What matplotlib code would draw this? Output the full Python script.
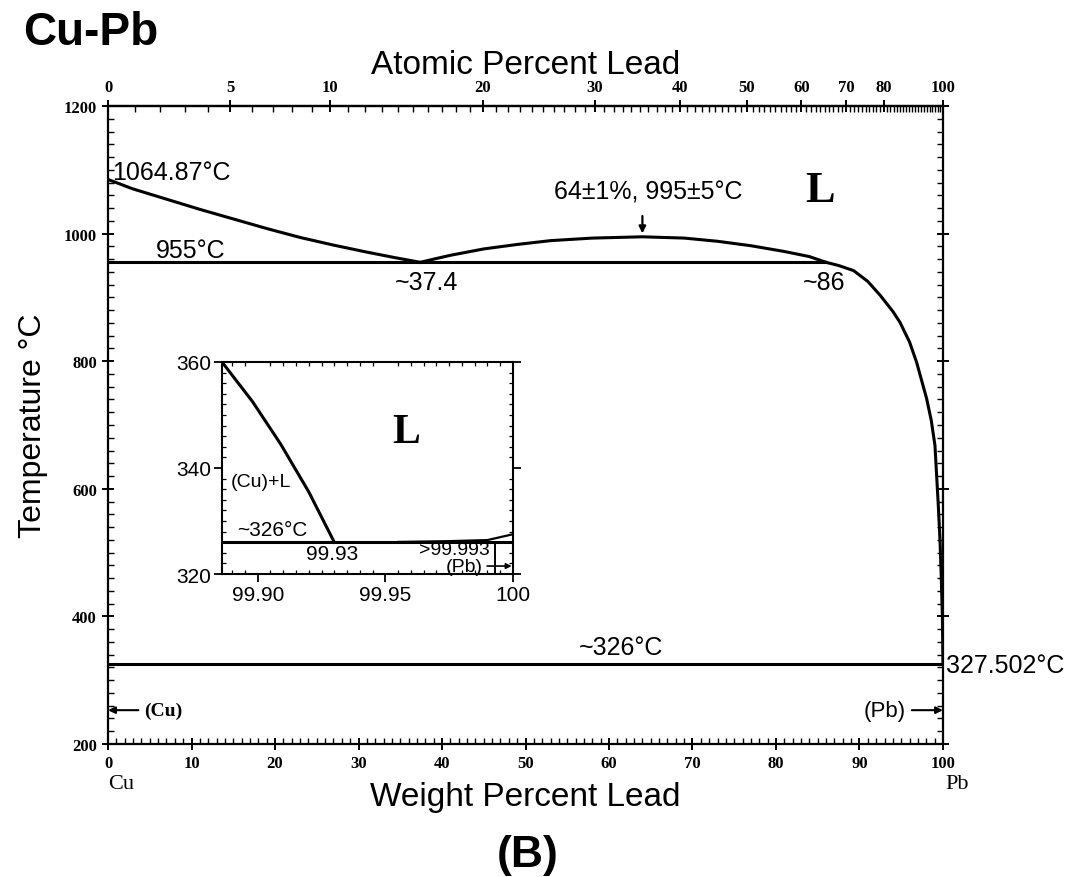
import numpy as np
import matplotlib
matplotlib.use("Agg")
import matplotlib.pyplot as plt
from matplotlib.ticker import MultipleLocator, FixedLocator

plt.rcParams['font.family'] = ['Liberation Sans', 'DejaVu Sans']

# ---- data (weight % Pb, temperature in C) ----
liq_left_wt = [0, 3, 7, 11, 15, 19, 23, 27, 31, 34.5, 37.4]
liq_left_T = [1084.87, 1070, 1054, 1038, 1023, 1008, 994, 982, 971, 962, 955]

dome_wt = [37.4, 39, 41, 45, 49, 53, 58, 64, 69, 73, 77, 81, 84, 86]
dome_T = [955, 960, 966, 976, 983, 989, 993, 995, 993, 988, 981, 972, 964, 955]

liq_right_wt = [86, 87.5, 89.3, 91, 92.5, 94, 94.85, 96, 96.85, 98.05, 98.6,
                99.04, 99.44, 99.64, 99.8, 99.93, 100]
liq_right_T = [955, 950, 942, 925, 903, 878, 861, 830, 798, 741, 707,
               668, 574, 521, 460, 400, 327.5]

monotectic_T = 955
monotectic_wt = [0, 86]
eutectic_T = 326
eutectic_wt = [0, 100]

top_ticks_at = [0, 5, 10, 20, 30, 40, 50, 60, 70, 80, 100]
bottom_ticks = list(range(0, 101, 10))
left_ticks = list(range(200, 1201, 200))

# inset data
in_liq_wt = [99.886, 99.898, 99.909, 99.920, 99.930]
in_liq_T = [360, 352.5, 344.5, 335.5, 326]
in_pbliq_wt = [99.955, 99.975, 99.99, 100.0]
in_pbliq_T = [326.05, 326.2, 326.4, 327.5]
in_solvus_wt = [99.993, 99.993]
in_solvus_T = [326, 320]


def wt_to_at(w):
    w = np.asarray(w, dtype=float)
    a = w / 207.2
    b = (100 - w) / 63.546
    return 100 * a / (a + b)


def at_to_wt(a):
    a = np.asarray(a, dtype=float)
    return 100 * a * 207.2 / (a * 207.2 + (100 - a) * 63.546)


fig = plt.figure(figsize=(10.87, 8.78), dpi=100)
ax = fig.add_axes([0.0994, 0.1515, 0.7681, 0.7266])

lw = 2.2
ax.plot(liq_left_wt, liq_left_T, color='black', lw=lw)
ax.plot(dome_wt, dome_T, color='black', lw=lw)
ax.plot(liq_right_wt, liq_right_T, color='black', lw=lw)
ax.plot(monotectic_wt, [monotectic_T] * 2, color='black', lw=lw)
ax.plot(eutectic_wt, [eutectic_T] * 2, color='black', lw=lw)

ax.set_xlim(0, 100)
ax.set_ylim(200, 1200)
for s in ax.spines.values():
    s.set_linewidth(1.6)

tick_font = dict(family='Liberation Serif', weight='bold', size=12)
ax.xaxis.set_major_locator(FixedLocator(bottom_ticks))
ax.xaxis.set_minor_locator(MultipleLocator(1))
ax.yaxis.set_major_locator(FixedLocator(left_ticks))
ax.yaxis.set_minor_locator(MultipleLocator(20))
ax.tick_params(which='major', direction='inout', length=9, width=1.4,
               top=False, right=True)
ax.tick_params(which='minor', direction='in', length=4, width=1.0,
               top=False, right=True)
for lab in ax.get_xticklabels() + ax.get_yticklabels():
    lab.set_fontproperties(tick_font)

secax = ax.secondary_xaxis('top', functions=(wt_to_at, at_to_wt))
secax.xaxis.set_major_locator(FixedLocator(top_ticks_at))
secax.xaxis.set_minor_locator(FixedLocator(list(range(0, 101, 1))))
secax.tick_params(which='major', direction='inout', length=9, width=1.4)
secax.tick_params(which='minor', direction='in', length=4, width=1.0)
secax.spines['top'].set_linewidth(1.6)
for lab in secax.get_xticklabels():
    lab.set_fontproperties(tick_font)
secax.set_xlabel('Atomic Percent Lead', fontsize=24, labelpad=4)

ax.set_xlabel('Weight Percent Lead', fontsize=24)
ax.xaxis.set_label_coords(0.5, -0.058)
ax.set_ylabel('Temperature \u00b0C', fontsize=23)
ax.yaxis.set_label_coords(-0.072, 0.5)

ann = dict(fontsize=18, color='black')
ax.text(0.5, 1097, '1064.87\u00b0C', ha='left', va='center', **ann)
ax.text(9.9, 975, '955\u00b0C', ha='center', va='center', **ann)
ax.text(38.1, 924, '~37.4', ha='center', va='center', **ann)
ax.text(85.8, 924, '~86', ha='center', va='center', **ann)
ax.text(64.7, 1066, '64\u00b11%, 995\u00b15\u00b0C', ha='center', va='center', **ann)
ax.annotate('', xy=(64, 996), xytext=(64, 1032),
            arrowprops=dict(arrowstyle='-|>', color='black', lw=1.6,
                            mutation_scale=10))
ax.text(85.3, 1068, 'L', family='Liberation Serif', weight='bold',
        fontsize=32, ha='center', va='center')
ax.text(61.4, 352, '~326\u00b0C', ha='center', va='center', **ann)
ax.text(100.4, 324, '327.502\u00b0C', ha='left', va='center', clip_on=False, **ann)

ax.annotate('(Cu)', xy=(0, 253), xytext=(4.3, 253), ha='left', va='center',
            family='Liberation Serif', weight='bold', fontsize=14,
            arrowprops=dict(arrowstyle='-|>', color='black', lw=1.5,
                            mutation_scale=10, shrinkA=2, shrinkB=0))
ax.annotate('(Pb)', xy=(100, 253), xytext=(95.6, 253), ha='right', va='center',
            fontsize=16,
            arrowprops=dict(arrowstyle='-|>', color='black', lw=1.5,
                            mutation_scale=10, shrinkA=2, shrinkB=0))

xt = ax.get_xaxis_transform()
ax.text(0, -0.062, 'Cu', transform=xt, ha='left', va='center',
        family='Liberation Serif', fontsize=16)
ax.text(100.3, -0.062, 'Pb', transform=xt, ha='left', va='center',
        family='Liberation Serif', fontsize=16)

fig.text(0.021, 0.962, 'Cu-Pb', fontsize=33, weight='bold', ha='left', va='center')
fig.text(0.485, 0.026, '(B)', fontsize=32, weight='bold', ha='center', va='center')

# ---- inset ----
ins = fig.add_axes([0.2042, 0.3451, 0.2677, 0.2415])
ins.plot(in_liq_wt, in_liq_T, color='black', lw=lw)
ins.plot([99.886, 100], [eutectic_T] * 2, color='black', lw=lw)
ins.plot(in_pbliq_wt, in_pbliq_T, color='black', lw=1.6)
ins.plot(in_solvus_wt, in_solvus_T, color='black', lw=1.4)
ins.set_xlim(99.886, 100.0)
ins.set_ylim(320, 360)
for s in ins.spines.values():
    s.set_linewidth(1.5)
ins.xaxis.set_major_locator(FixedLocator([99.90, 99.95, 100.0]))
ins.xaxis.set_ticklabels(['99.90', '99.95', '100'])
ins.xaxis.set_minor_locator(MultipleLocator(0.005))
ins.yaxis.set_major_locator(FixedLocator([320, 340, 360]))
ins.yaxis.set_minor_locator(MultipleLocator(2))
ins.tick_params(which='major', direction='out', length=6, width=1.3,
                labelsize=15, pad=2)
ins.tick_params(which='minor', direction='in', length=3, width=0.9,
                top=True, right=True)
ins.tick_params(which='major', top=False, right=True)

ins.text(99.958, 346.8, 'L', family='Liberation Serif', weight='bold',
         fontsize=30, ha='center', va='center')
ins.text(99.9013, 337.4, '(Cu)+L', fontsize=14, ha='center', va='center')
ins.text(99.9056, 328.4, '~326\u00b0C', fontsize=15, ha='center', va='center')
ins.text(99.929, 323.8, '99.93', fontsize=15, ha='center', va='center')
ins.text(99.977, 324.6, '>99.993', fontsize=14, ha='center', va='center')
ins.annotate('(Pb)', xy=(99.9995, 321.5), xytext=(99.981, 321.5),
             fontsize=14, ha='center', va='center',
             arrowprops=dict(arrowstyle='-|>', color='black', lw=1.2,
                             mutation_scale=8, shrinkA=1, shrinkB=0))

fig.savefig('out.png', dpi=100)
